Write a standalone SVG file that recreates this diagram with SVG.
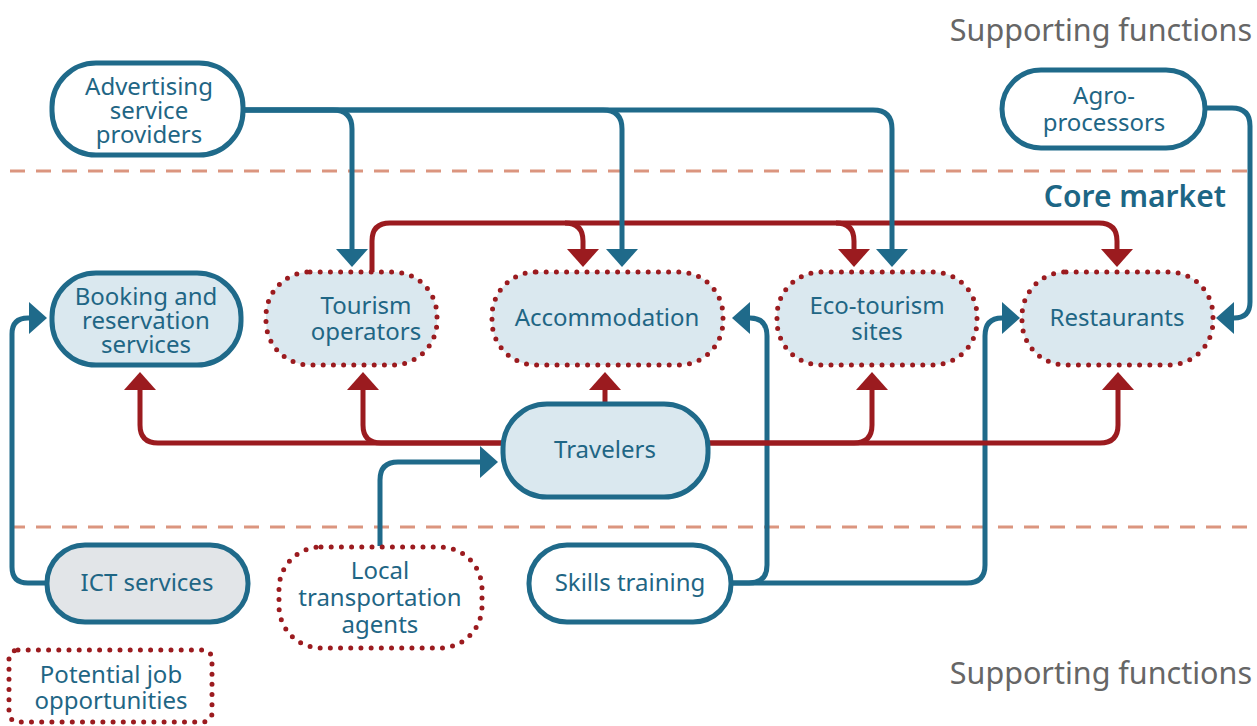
<svg xmlns="http://www.w3.org/2000/svg" width="1257" height="726" viewBox="0 0 1257 726">
  <style>
    .band { stroke: #db957f; stroke-width: 3; stroke-dasharray: 15 11; fill: none; }
    .title { font-family: "Noto Sans", "Open Sans", sans-serif; font-size: 30.5px; }
    .grey { fill: #666666; }
    .core { fill: #1d6685; font-weight: 600; font-size: 30px; }
    .solid { stroke: #1f6a8a; stroke-width: 5; }
    .dotted { stroke: #9b1b1f; stroke-width: 5; stroke-dasharray: 0 10.2; stroke-linecap: round; }
    .white { fill: #ffffff; }
    .blue { fill: #dae8ef; }
    .grey-fill { fill: #e2e5e8; }
    .label { font-family: "Noto Sans", "Open Sans", sans-serif; font-size: 24px; fill: #1f6685; text-anchor: middle; }
    .c-blue { stroke: #1f6a8a; stroke-width: 5; fill: none; }
    .c-red { stroke: #9b1b1f; stroke-width: 5; fill: none; }
  </style>
  <defs>
    <marker id="arrow-blue" viewBox="0 0 18 32" refX="0" refY="16" markerWidth="18" markerHeight="32" markerUnits="userSpaceOnUse" orient="auto">
      <path d="M0,0 L18,16 L0,32 Z" fill="#1f6a8a"/>
    </marker>
    <marker id="arrow-red" viewBox="0 0 18 32" refX="0" refY="16" markerWidth="18" markerHeight="32" markerUnits="userSpaceOnUse" orient="auto">
      <path d="M0,0 L18,16 L0,32 Z" fill="#9b1b1f"/>
    </marker>
  </defs>

  <rect width="1257" height="726" fill="#ffffff"/>

  <!-- zone boundaries -->
  <line class="band" x1="10" y1="171" x2="1257" y2="171"/>
  <line class="band" x1="10" y1="527" x2="1257" y2="527"/>

  <!-- zone titles -->
  <text class="title grey" x="1252" y="41" text-anchor="end">Supporting functions</text>
  <text class="title core" x="1226" y="207" text-anchor="end">Core market</text>
  <text class="title grey" x="1252" y="684" text-anchor="end">Supporting functions</text>

  <g id="connectors">
    <!-- skills training -->
    <path class="c-blue" d="M731,583 H749 Q767,583 767,565 V336 Q767,318 750,318" marker-end="url(#arrow-blue)"/>
    <path class="c-blue" d="M731,583 H967 Q985,583 985,565 V336 Q985,318 1002,318" marker-end="url(#arrow-blue)"/>
    <!-- travelers to core market actors -->
    <path class="c-red" d="M503,443 H158 Q140,443 140,425 V390" marker-end="url(#arrow-red)"/>
    <path class="c-red" d="M503,443 H381 Q363,443 363,425 V390" marker-end="url(#arrow-red)"/>
    <path class="c-red" d="M605,403 V390" marker-end="url(#arrow-red)"/>
    <path class="c-red" d="M708,443 H854 Q872,443 872,425 V390" marker-end="url(#arrow-red)"/>
    <path class="c-red" d="M708,443 H1100 Q1118,443 1118,425 V390" marker-end="url(#arrow-red)"/>
    <!-- tourism operators to other actors -->
    <path class="c-red" d="M372,272 V241 Q372,223 390,223 H1099 Q1117,223 1117,241 V249" marker-end="url(#arrow-red)"/>
    <path class="c-red" d="M565,223 Q583,223 583,241 V249" marker-end="url(#arrow-red)"/>
    <path class="c-red" d="M836,223 Q854,223 854,241 V249" marker-end="url(#arrow-red)"/>
    <!-- advertising -->
    <path class="c-blue" d="M243,110 H333 Q352,110 352,129 V249" marker-end="url(#arrow-blue)"/>
    <path class="c-blue" d="M243,110 H603 Q622,110 622,129 V249" marker-end="url(#arrow-blue)"/>
    <path class="c-blue" d="M243,110 H873 Q892,110 892,129 V249" marker-end="url(#arrow-blue)"/>
    <!-- agro-processors -->
    <path class="c-blue" d="M1205,108 H1232 Q1250,108 1250,126 V302 Q1250,318 1234,318" marker-end="url(#arrow-blue)"/>
    <!-- ICT services -->
    <path class="c-blue" d="M47,583 H28 Q12,583 12,567 V334 Q12,318 28,318 H29" marker-end="url(#arrow-blue)"/>
    <!-- local transportation -->
    <path class="c-blue" d="M380,546 V480 Q380,462 398,462 H480" marker-end="url(#arrow-blue)"/>
  </g>

  <g id="advertising">
    <rect class="solid white" x="52" y="63" width="191" height="92" rx="44"/>
    <text class="label" x="149" y="95">Advertising<tspan x="149" dy="24">service</tspan><tspan x="149" dy="24">providers</tspan></text>
  </g>

  <g id="agro">
    <rect class="solid white" x="1002" y="70" width="203" height="78" rx="39"/>
    <text class="label" x="1104" y="104">Agro-<tspan x="1104" dy="27">processors</tspan></text>
  </g>

  <g id="booking">
    <rect class="solid blue" x="52" y="273" width="189" height="92" rx="44"/>
    <text class="label" x="146" y="305">Booking and<tspan x="146" dy="24">reservation</tspan><tspan x="146" dy="24">services</tspan></text>
  </g>

  <g id="tourism">
    <rect class="dotted blue" x="266" y="272" width="171" height="93" rx="44"/>
    <text class="label" x="366" y="314">Tourism<tspan x="366" dy="26">operators</tspan></text>
  </g>

  <g id="accommodation">
    <rect class="dotted blue" x="492" y="272" width="231" height="93" rx="44"/>
    <text class="label" x="607" y="326">Accommodation</text>
  </g>

  <g id="eco-tourism">
    <rect class="dotted blue" x="777" y="272" width="200" height="93" rx="44"/>
    <text class="label" x="877" y="314">Eco-tourism<tspan x="877" dy="26">sites</tspan></text>
  </g>

  <g id="restaurants">
    <rect class="dotted blue" x="1022" y="272" width="191" height="93" rx="44"/>
    <text class="label" x="1117" y="326">Restaurants</text>
  </g>

  <g id="travelers">
    <rect class="solid blue" x="503" y="404" width="205" height="93" rx="44"/>
    <text class="label" x="605" y="458">Travelers</text>
  </g>

  <g id="ict">
    <rect class="solid grey-fill" x="47" y="545" width="201" height="77" rx="38"/>
    <text class="label" x="147" y="591">ICT services</text>
  </g>

  <g id="local-transport">
    <rect class="dotted white" x="279" y="547" width="203" height="101" rx="42"/>
    <text class="label" x="380" y="579">Local<tspan x="380" dy="27">transportation</tspan><tspan x="380" dy="27">agents</tspan></text>
  </g>

  <g id="skills">
    <rect class="solid white" x="529" y="545" width="202" height="77" rx="38"/>
    <text class="label" x="630" y="591">Skills training</text>
  </g>

  <g id="legend">
    <rect class="dotted white" x="9" y="650" width="203" height="72" rx="9"/>
    <text class="label" x="111" y="683">Potential job<tspan x="111" dy="26">opportunities</tspan></text>
  </g>
</svg>
